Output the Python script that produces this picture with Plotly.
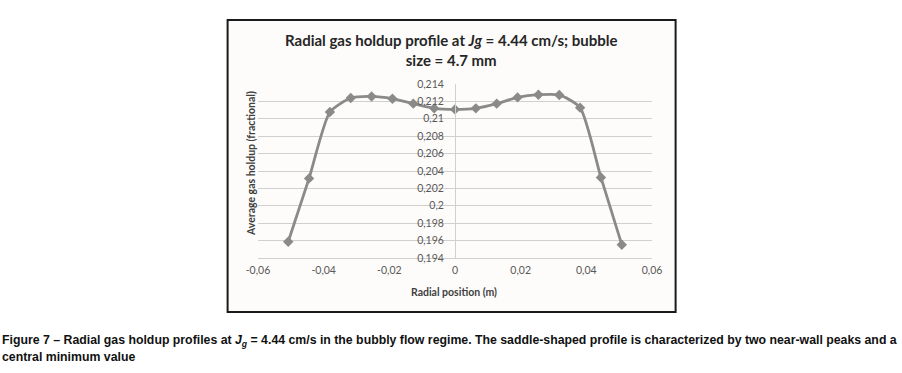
import plotly.graph_objects as go

# ---- data ----
radial_position_m = [-0.0508, -0.04445, -0.0381, -0.03175, -0.0254, -0.01905, -0.0127, -0.00635, 0.0,
                     0.00635, 0.0127, 0.01905, 0.0254, 0.03175, 0.0381, 0.04445, 0.0508]
gas_holdup = [0.19587, 0.20315, 0.21078, 0.21239, 0.21257, 0.21231, 0.21174, 0.21120, 0.21108,
              0.21120, 0.21174, 0.21246, 0.21277, 0.21274, 0.21128, 0.20326, 0.19553]

x_tick_values = [-0.06, -0.04, -0.02, 0.0, 0.02, 0.04, 0.06]
x_tick_labels = ["-0,06", "-0,04", "-0,02", "0", "0,02", "0,04", "0,06"]
y_tick_values = [0.194, 0.196, 0.198, 0.200, 0.202, 0.204, 0.206, 0.208, 0.210, 0.212, 0.214]
y_tick_labels = ["0,194", "0,196", "0,198", "0,2", "0,202", "0,204", "0,206", "0,208", "0,21", "0,212", "0,214"]

chart_title = "Radial gas holdup profile at <i>Jg</i> = 4.44 cm/s; bubble<br>size = 4.7 mm"
x_title = "Radial position (m)"
y_title = "Average gas holdup (fractional)"
caption_line1 = ("Figure 7 – Radial gas holdup profiles at <i>J</i><sub><i>g</i></sub> = 4.44 cm/s in the bubbly flow regime. "
                 "The saddle-shaped profile is characterized by two near-wall peaks and a")
caption_line2 = "central minimum value"

# ---- layout geometry (pixels) ----
FW, FH = 902, 373
L, R, T, B = 257.7, 651.7, 84.3, 258.3
W, H = R - L, B - T


def px(xp):
    return (xp - L) / W


def py(yp):
    return (B - yp) / H


GRID = "#d0d0d0"
LINE = "#8a8a8a"
TICK = "#595959"
FONT = "Lato"

fig = go.Figure()
fig.add_trace(go.Scatter(
    x=radial_position_m, y=gas_holdup, mode="lines+markers",
    line=dict(color=LINE, width=2.8, shape="spline", smoothing=0.6),
    marker=dict(symbol="diamond", size=8, color=LINE),
    showlegend=False, hoverinfo="x+y",
))

fig.update_layout(
    width=FW, height=FH,
    margin=dict(l=L, r=FW - R, t=T, b=FH - B, pad=0),
    paper_bgcolor="white", plot_bgcolor="rgba(0,0,0,0)",
    separators=", ",
    font=dict(family=FONT, color=TICK, size=10.5),
    xaxis=dict(range=[-0.06, 0.06], tickvals=x_tick_values, ticktext=x_tick_labels,
               showgrid=False, zeroline=False, showline=True, linecolor=GRID, linewidth=1,
               ticks="", ticklabelstandoff=2, tickfont=dict(size=10.5, color=TICK, family=FONT),
               fixedrange=True),
    yaxis=dict(range=[0.194, 0.214], tickvals=y_tick_values, ticktext=y_tick_labels,
               anchor="free", position=0.5, showgrid=True, gridcolor=GRID, gridwidth=1,
               zeroline=False, showline=True, linecolor=GRID, linewidth=1,
               ticks="", ticklabelstandoff=9, tickfont=dict(size=10.5, color=TICK, family=FONT),
               fixedrange=True),
)

# outer chart box
fig.add_shape(type="rect", xref="paper", yref="paper",
              x0=px(227.3), x1=px(675.3), y0=py(312.3), y1=py(20.3),
              line=dict(color="#1a1a1a", width=2), fillcolor="#fdfcfa", layer="below")

# chart title
fig.add_annotation(text=chart_title, xref="paper", yref="paper", x=px(451), y=py(50),
                   xanchor="center", yanchor="middle", showarrow=False,
                   font=dict(family=FONT, size=15, color="#262626", weight="bold"))
# axis titles
fig.add_annotation(text="<b>" + x_title + "</b>", xref="paper", yref="paper", x=px(454), y=py(292),
                   xanchor="center", yanchor="middle", showarrow=False,
                   font=dict(family=FONT, size=10.5, color="#404040"))
fig.add_annotation(text="<b>" + y_title + "</b>", xref="paper", yref="paper", x=px(250), y=py(164),
                   xanchor="center", yanchor="middle", showarrow=False, textangle=-90,
                   font=dict(family=FONT, size=10.5, color="#404040"))
# caption
fig.add_annotation(text="<b>" + caption_line1 + "</b>", xref="paper", yref="paper", x=px(0), y=py(341),
                   xanchor="left", yanchor="middle", showarrow=False,
                   font=dict(family="Liberation Sans", size=12.3, color="#111111"))
fig.add_annotation(text="<b>" + caption_line2 + "</b>", xref="paper", yref="paper", x=px(0), y=py(357),
                   xanchor="left", yanchor="middle", showarrow=False,
                   font=dict(family="Liberation Sans", size=12.3, color="#111111"))

fig.write_html("out.html", config={"displayModeBar": False},
               post_script="document.body.style.margin='0';")
